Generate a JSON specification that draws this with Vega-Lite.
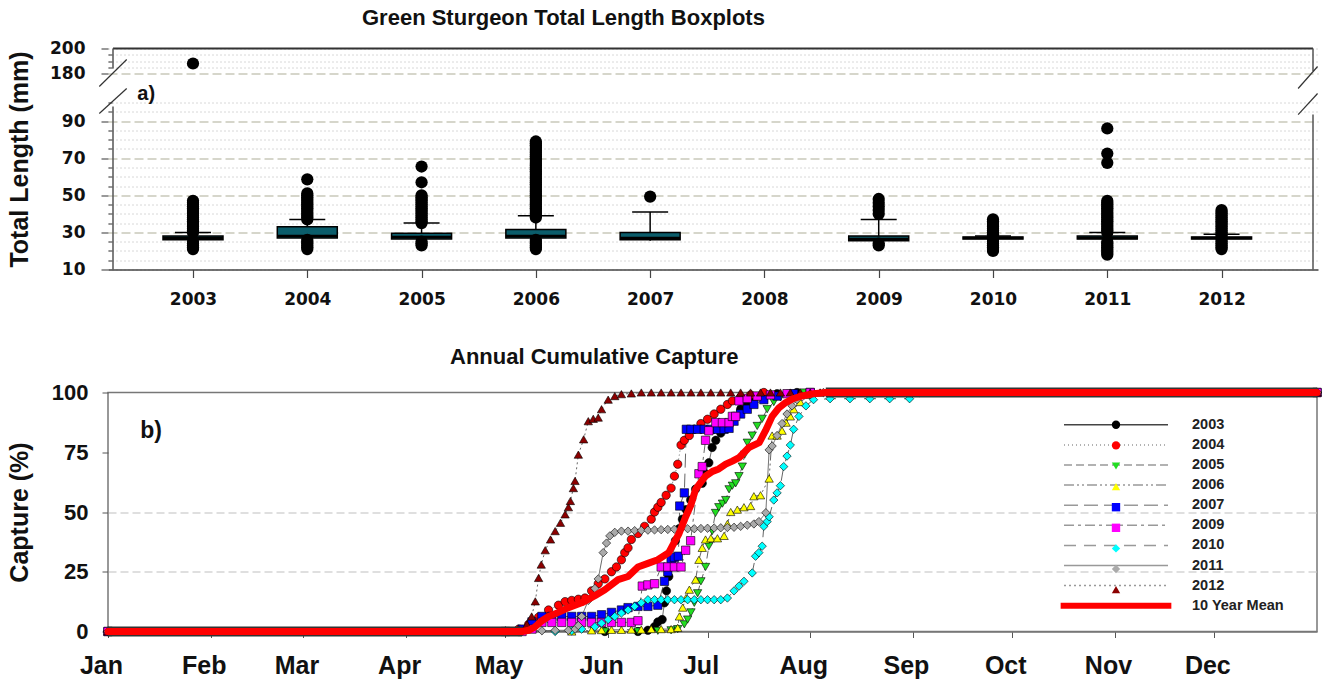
{
  "$schema": "https://vega.github.io/schema/vega-lite/v6.json",
  "background": "white",
  "padding": {"left": 6, "top": 6.5, "right": 3, "bottom": 2},
  "config": {
    "font": "Liberation Sans",
    "view": {"stroke": null},
    "axis": {"labelFont": "Liberation Sans", "titleFont": "Liberation Sans", "labelFontWeight": "bold", "titleFontWeight": "bold", "labelColor": "#111", "titleColor": "#111", "labelOverlap": false, "labelBound": false, "labelFlush": false},
    "legend": {"labelFont": "Liberation Sans"},
    "text": {"font": "Liberation Sans"},
    "title": {"font": "Liberation Sans", "fontWeight": "bold", "color": "#111"}
  },
  "datasets": {
    "boxes": [
      {"year": 2003, "lo": 25, "q1": 26, "med": 27, "q3": 28, "hi": 30},
      {"year": 2004, "lo": 26, "q1": 27, "med": 28, "q3": 33, "hi": 37},
      {"year": 2005, "lo": 25, "q1": 26.5, "med": 27.5, "q3": 29.5, "hi": 35},
      {"year": 2006, "lo": 25, "q1": 27, "med": 28, "q3": 31.5, "hi": 39},
      {"year": 2007, "lo": 25.5, "q1": 26, "med": 27, "q3": 30, "hi": 41},
      {"year": 2009, "lo": 25, "q1": 25.5, "med": 26.5, "q3": 28, "hi": 37},
      {"year": 2010, "lo": 26, "q1": 26.5, "med": 27, "q3": 27.5, "hi": 28},
      {"year": 2011, "lo": 26, "q1": 26.5, "med": 27, "q3": 28, "hi": 30},
      {"year": 2012, "lo": 26, "q1": 26.5, "med": 27, "q3": 27.5, "hi": 29}
    ],
    "outl": [
      {"year": 2003, "len": 21}, {"year": 2003, "len": 22}, {"year": 2003, "len": 23}, {"year": 2003, "len": 24}, {"year": 2003, "len": 25},
      {"year": 2003, "len": 30}, {"year": 2003, "len": 31}, {"year": 2003, "len": 32}, {"year": 2003, "len": 33}, {"year": 2003, "len": 34}, {"year": 2003, "len": 35}, {"year": 2003, "len": 36}, {"year": 2003, "len": 37}, {"year": 2003, "len": 38}, {"year": 2003, "len": 39}, {"year": 2003, "len": 40}, {"year": 2003, "len": 41}, {"year": 2003, "len": 42}, {"year": 2003, "len": 43}, {"year": 2003, "len": 44}, {"year": 2003, "len": 45}, {"year": 2003, "len": 46}, {"year": 2003, "len": 47},
      {"year": 2003, "len": 188},
      {"year": 2004, "len": 21}, {"year": 2004, "len": 22}, {"year": 2004, "len": 23}, {"year": 2004, "len": 24}, {"year": 2004, "len": 25}, {"year": 2004, "len": 26},
      {"year": 2004, "len": 37}, {"year": 2004, "len": 38}, {"year": 2004, "len": 39}, {"year": 2004, "len": 40}, {"year": 2004, "len": 41}, {"year": 2004, "len": 42}, {"year": 2004, "len": 43}, {"year": 2004, "len": 44}, {"year": 2004, "len": 45}, {"year": 2004, "len": 46}, {"year": 2004, "len": 47}, {"year": 2004, "len": 48}, {"year": 2004, "len": 49}, {"year": 2004, "len": 50}, {"year": 2004, "len": 51}, {"year": 2004, "len": 58.6},
      {"year": 2005, "len": 23}, {"year": 2005, "len": 24}, {"year": 2005, "len": 25},
      {"year": 2005, "len": 35}, {"year": 2005, "len": 36}, {"year": 2005, "len": 37}, {"year": 2005, "len": 38}, {"year": 2005, "len": 39}, {"year": 2005, "len": 40}, {"year": 2005, "len": 41}, {"year": 2005, "len": 42}, {"year": 2005, "len": 43}, {"year": 2005, "len": 44}, {"year": 2005, "len": 45}, {"year": 2005, "len": 46}, {"year": 2005, "len": 47}, {"year": 2005, "len": 48}, {"year": 2005, "len": 49}, {"year": 2005, "len": 50}, {"year": 2005, "len": 57}, {"year": 2005, "len": 65.5},
      {"year": 2006, "len": 21}, {"year": 2006, "len": 22}, {"year": 2006, "len": 23}, {"year": 2006, "len": 24}, {"year": 2006, "len": 25}, {"year": 2006, "len": 26},
      {"year": 2006, "len": 38}, {"year": 2006, "len": 39}, {"year": 2006, "len": 40}, {"year": 2006, "len": 41}, {"year": 2006, "len": 42}, {"year": 2006, "len": 43}, {"year": 2006, "len": 44}, {"year": 2006, "len": 45}, {"year": 2006, "len": 46}, {"year": 2006, "len": 47}, {"year": 2006, "len": 48}, {"year": 2006, "len": 49}, {"year": 2006, "len": 50}, {"year": 2006, "len": 51}, {"year": 2006, "len": 52}, {"year": 2006, "len": 53}, {"year": 2006, "len": 54}, {"year": 2006, "len": 55}, {"year": 2006, "len": 56}, {"year": 2006, "len": 57}, {"year": 2006, "len": 58}, {"year": 2006, "len": 59}, {"year": 2006, "len": 60}, {"year": 2006, "len": 61}, {"year": 2006, "len": 62}, {"year": 2006, "len": 63}, {"year": 2006, "len": 64}, {"year": 2006, "len": 65}, {"year": 2006, "len": 66}, {"year": 2006, "len": 67}, {"year": 2006, "len": 68}, {"year": 2006, "len": 69}, {"year": 2006, "len": 70}, {"year": 2006, "len": 71}, {"year": 2006, "len": 72}, {"year": 2006, "len": 73}, {"year": 2006, "len": 74}, {"year": 2006, "len": 75}, {"year": 2006, "len": 76}, {"year": 2006, "len": 77}, {"year": 2006, "len": 78}, {"year": 2006, "len": 79},
      {"year": 2007, "len": 49.3},
      {"year": 2009, "len": 23}, {"year": 2009, "len": 24}, {"year": 2009, "len": 40}, {"year": 2009, "len": 42}, {"year": 2009, "len": 44}, {"year": 2009, "len": 46}, {"year": 2009, "len": 48},
      {"year": 2010, "len": 20}, {"year": 2010, "len": 21}, {"year": 2010, "len": 22}, {"year": 2010, "len": 23}, {"year": 2010, "len": 24}, {"year": 2010, "len": 25}, {"year": 2010, "len": 26}, {"year": 2010, "len": 28}, {"year": 2010, "len": 29}, {"year": 2010, "len": 30}, {"year": 2010, "len": 31}, {"year": 2010, "len": 32}, {"year": 2010, "len": 33}, {"year": 2010, "len": 34}, {"year": 2010, "len": 35}, {"year": 2010, "len": 36}, {"year": 2010, "len": 37},
      {"year": 2011, "len": 18}, {"year": 2011, "len": 19}, {"year": 2011, "len": 20}, {"year": 2011, "len": 21}, {"year": 2011, "len": 22}, {"year": 2011, "len": 23}, {"year": 2011, "len": 24}, {"year": 2011, "len": 25},
      {"year": 2011, "len": 30}, {"year": 2011, "len": 31}, {"year": 2011, "len": 32}, {"year": 2011, "len": 33}, {"year": 2011, "len": 34}, {"year": 2011, "len": 35}, {"year": 2011, "len": 36}, {"year": 2011, "len": 37}, {"year": 2011, "len": 38}, {"year": 2011, "len": 39}, {"year": 2011, "len": 40}, {"year": 2011, "len": 41}, {"year": 2011, "len": 42}, {"year": 2011, "len": 43}, {"year": 2011, "len": 44}, {"year": 2011, "len": 45}, {"year": 2011, "len": 46}, {"year": 2011, "len": 47}, {"year": 2011, "len": 67.5}, {"year": 2011, "len": 72.5}, {"year": 2011, "len": 86},
      {"year": 2012, "len": 21}, {"year": 2012, "len": 22}, {"year": 2012, "len": 23}, {"year": 2012, "len": 24}, {"year": 2012, "len": 25}, {"year": 2012, "len": 26}, {"year": 2012, "len": 28}, {"year": 2012, "len": 29}, {"year": 2012, "len": 30}, {"year": 2012, "len": 31}, {"year": 2012, "len": 32}, {"year": 2012, "len": 33}, {"year": 2012, "len": 34}, {"year": 2012, "len": 35}, {"year": 2012, "len": 36}, {"year": 2012, "len": 37}, {"year": 2012, "len": 38}, {"year": 2012, "len": 39}, {"year": 2012, "len": 40}, {"year": 2012, "len": 41}, {"year": 2012, "len": 42}
    ],
    "cap": [
      {"s": "2003", "d": 0, "v": 0}, {"s": "2003", "d": 120, "v": 0}, {"s": "2003", "d": 150, "v": 0}, {"s": "2003", "d": 160, "v": 0}, {"s": "2003", "d": 163, "v": 0.5}, {"s": "2003", "d": 165, "v": 2}, {"s": "2003", "d": 166, "v": 4}, {"s": "2003", "d": 167.3, "v": 5}, {"s": "2003", "d": 168, "v": 12}, {"s": "2003", "d": 168.6, "v": 17}, {"s": "2003", "d": 169.3, "v": 23}, {"s": "2003", "d": 170.3, "v": 30}, {"s": "2003", "d": 171.3, "v": 38}, {"s": "2003", "d": 172.4, "v": 43}, {"s": "2003", "d": 173.4, "v": 47}, {"s": "2003", "d": 174.5, "v": 51}, {"s": "2003", "d": 175.9, "v": 55}, {"s": "2003", "d": 177.4, "v": 59.6}, {"s": "2003", "d": 179.4, "v": 62}, {"s": "2003", "d": 180.4, "v": 66}, {"s": "2003", "d": 181.4, "v": 70.6}, {"s": "2003", "d": 182.4, "v": 77}, {"s": "2003", "d": 183.5, "v": 80}, {"s": "2003", "d": 185, "v": 83}, {"s": "2003", "d": 187, "v": 87}, {"s": "2003", "d": 189, "v": 90}, {"s": "2003", "d": 191, "v": 93}, {"s": "2003", "d": 193, "v": 95}, {"s": "2003", "d": 195, "v": 97}, {"s": "2003", "d": 198, "v": 98.5}, {"s": "2003", "d": 202, "v": 99.5}, {"s": "2003", "d": 208, "v": 100}, {"s": "2003", "d": 365, "v": 100},
      {"s": "2004", "d": 0, "v": 0}, {"s": "2004", "d": 120, "v": 0}, {"s": "2004", "d": 124, "v": 1}, {"s": "2004", "d": 127, "v": 3}, {"s": "2004", "d": 130, "v": 6}, {"s": "2004", "d": 133, "v": 9}, {"s": "2004", "d": 136, "v": 11}, {"s": "2004", "d": 138, "v": 12.5}, {"s": "2004", "d": 140, "v": 13}, {"s": "2004", "d": 142, "v": 13.5}, {"s": "2004", "d": 144, "v": 14}, {"s": "2004", "d": 146, "v": 17}, {"s": "2004", "d": 148, "v": 20}, {"s": "2004", "d": 150, "v": 22}, {"s": "2004", "d": 152, "v": 25}, {"s": "2004", "d": 153.5, "v": 27}, {"s": "2004", "d": 155, "v": 30}, {"s": "2004", "d": 156, "v": 33}, {"s": "2004", "d": 157, "v": 35}, {"s": "2004", "d": 158, "v": 38.5}, {"s": "2004", "d": 160, "v": 41}, {"s": "2004", "d": 162, "v": 44}, {"s": "2004", "d": 164, "v": 47}, {"s": "2004", "d": 165, "v": 50}, {"s": "2004", "d": 166, "v": 52}, {"s": "2004", "d": 167, "v": 54}, {"s": "2004", "d": 168.5, "v": 57}, {"s": "2004", "d": 170, "v": 60}, {"s": "2004", "d": 171, "v": 65}, {"s": "2004", "d": 172, "v": 70}, {"s": "2004", "d": 173, "v": 78}, {"s": "2004", "d": 174, "v": 80}, {"s": "2004", "d": 175.5, "v": 82}, {"s": "2004", "d": 177, "v": 84.6}, {"s": "2004", "d": 179, "v": 87}, {"s": "2004", "d": 181, "v": 88.8}, {"s": "2004", "d": 183, "v": 91}, {"s": "2004", "d": 185, "v": 93}, {"s": "2004", "d": 187, "v": 95}, {"s": "2004", "d": 188.5, "v": 96.5}, {"s": "2004", "d": 191, "v": 98}, {"s": "2004", "d": 194, "v": 99}, {"s": "2004", "d": 198, "v": 100}, {"s": "2004", "d": 365, "v": 100},
      {"s": "2005", "d": 0, "v": 0}, {"s": "2005", "d": 150, "v": 0}, {"s": "2005", "d": 160, "v": 0}, {"s": "2005", "d": 166, "v": 0.3}, {"s": "2005", "d": 170, "v": 0.5}, {"s": "2005", "d": 172, "v": 1}, {"s": "2005", "d": 174, "v": 3}, {"s": "2005", "d": 175, "v": 5}, {"s": "2005", "d": 176, "v": 8}, {"s": "2005", "d": 177, "v": 12}, {"s": "2005", "d": 178, "v": 16}, {"s": "2005", "d": 179, "v": 21}, {"s": "2005", "d": 180.4, "v": 27}, {"s": "2005", "d": 181.4, "v": 35.7}, {"s": "2005", "d": 182.4, "v": 42}, {"s": "2005", "d": 183.4, "v": 49.6}, {"s": "2005", "d": 184.4, "v": 52}, {"s": "2005", "d": 185.5, "v": 53.5}, {"s": "2005", "d": 186.5, "v": 55}, {"s": "2005", "d": 187.5, "v": 59.5}, {"s": "2005", "d": 188.5, "v": 61}, {"s": "2005", "d": 189.5, "v": 62}, {"s": "2005", "d": 190.5, "v": 65}, {"s": "2005", "d": 191.5, "v": 69}, {"s": "2005", "d": 192.2, "v": 74}, {"s": "2005", "d": 193, "v": 79}, {"s": "2005", "d": 194.5, "v": 82}, {"s": "2005", "d": 196, "v": 86}, {"s": "2005", "d": 197.5, "v": 89}, {"s": "2005", "d": 199, "v": 93}, {"s": "2005", "d": 201, "v": 96}, {"s": "2005", "d": 203, "v": 98}, {"s": "2005", "d": 206, "v": 99.5}, {"s": "2005", "d": 210, "v": 100}, {"s": "2005", "d": 365, "v": 100},
      {"s": "2006", "d": 0, "v": 0}, {"s": "2006", "d": 140, "v": 0}, {"s": "2006", "d": 146, "v": 0.5}, {"s": "2006", "d": 149, "v": 0.6}, {"s": "2006", "d": 152, "v": 0.7}, {"s": "2006", "d": 155, "v": 0.7}, {"s": "2006", "d": 158, "v": 0.8}, {"s": "2006", "d": 161, "v": 0.8}, {"s": "2006", "d": 164, "v": 1}, {"s": "2006", "d": 167, "v": 1}, {"s": "2006", "d": 170, "v": 1}, {"s": "2006", "d": 172, "v": 1.5}, {"s": "2006", "d": 172.5, "v": 6.3}, {"s": "2006", "d": 173.5, "v": 10}, {"s": "2006", "d": 174.5, "v": 14}, {"s": "2006", "d": 175.5, "v": 17.5}, {"s": "2006", "d": 177.4, "v": 21.7}, {"s": "2006", "d": 178.4, "v": 30}, {"s": "2006", "d": 179.4, "v": 35}, {"s": "2006", "d": 180.4, "v": 38.5}, {"s": "2006", "d": 182, "v": 39}, {"s": "2006", "d": 184, "v": 39}, {"s": "2006", "d": 186, "v": 40}, {"s": "2006", "d": 187, "v": 45}, {"s": "2006", "d": 188, "v": 50}, {"s": "2006", "d": 190, "v": 51}, {"s": "2006", "d": 192, "v": 52}, {"s": "2006", "d": 194, "v": 52.5}, {"s": "2006", "d": 195, "v": 56.6}, {"s": "2006", "d": 197, "v": 57}, {"s": "2006", "d": 199.6, "v": 64}, {"s": "2006", "d": 200.5, "v": 82}, {"s": "2006", "d": 202, "v": 82}, {"s": "2006", "d": 203.5, "v": 84}, {"s": "2006", "d": 204.7, "v": 87.4}, {"s": "2006", "d": 206, "v": 90}, {"s": "2006", "d": 207, "v": 93}, {"s": "2006", "d": 209, "v": 96}, {"s": "2006", "d": 212, "v": 99}, {"s": "2006", "d": 215, "v": 100}, {"s": "2006", "d": 365, "v": 100},
      {"s": "2007", "d": 0, "v": 0}, {"s": "2007", "d": 120, "v": 0}, {"s": "2007", "d": 125, "v": 1}, {"s": "2007", "d": 128, "v": 4}, {"s": "2007", "d": 131, "v": 6.3}, {"s": "2007", "d": 134, "v": 6.3}, {"s": "2007", "d": 137, "v": 6.3}, {"s": "2007", "d": 140, "v": 6.3}, {"s": "2007", "d": 143, "v": 6.3}, {"s": "2007", "d": 146, "v": 6.3}, {"s": "2007", "d": 149, "v": 7}, {"s": "2007", "d": 152, "v": 8}, {"s": "2007", "d": 155, "v": 9}, {"s": "2007", "d": 157, "v": 10}, {"s": "2007", "d": 160, "v": 10.5}, {"s": "2007", "d": 163, "v": 10.5}, {"s": "2007", "d": 166, "v": 11}, {"s": "2007", "d": 168, "v": 21}, {"s": "2007", "d": 169, "v": 25}, {"s": "2007", "d": 170, "v": 30}, {"s": "2007", "d": 171, "v": 31}, {"s": "2007", "d": 172.2, "v": 31.5}, {"s": "2007", "d": 172.6, "v": 52.5}, {"s": "2007", "d": 174, "v": 58}, {"s": "2007", "d": 174.6, "v": 84.6}, {"s": "2007", "d": 176, "v": 84.6}, {"s": "2007", "d": 178, "v": 84.6}, {"s": "2007", "d": 180, "v": 84.6}, {"s": "2007", "d": 182, "v": 84.6}, {"s": "2007", "d": 184, "v": 84.6}, {"s": "2007", "d": 186, "v": 84.6}, {"s": "2007", "d": 187.5, "v": 85}, {"s": "2007", "d": 189, "v": 88}, {"s": "2007", "d": 191, "v": 91}, {"s": "2007", "d": 193, "v": 93}, {"s": "2007", "d": 195, "v": 95}, {"s": "2007", "d": 198, "v": 97}, {"s": "2007", "d": 202, "v": 98.5}, {"s": "2007", "d": 207, "v": 99.5}, {"s": "2007", "d": 212, "v": 100}, {"s": "2007", "d": 365, "v": 100},
      {"s": "2009", "d": 0, "v": 0}, {"s": "2009", "d": 125, "v": 0}, {"s": "2009", "d": 128, "v": 1}, {"s": "2009", "d": 131, "v": 3.8}, {"s": "2009", "d": 134, "v": 3.8}, {"s": "2009", "d": 137, "v": 3.8}, {"s": "2009", "d": 140, "v": 3.8}, {"s": "2009", "d": 143, "v": 3.8}, {"s": "2009", "d": 146, "v": 3.8}, {"s": "2009", "d": 149, "v": 3.8}, {"s": "2009", "d": 152, "v": 3.8}, {"s": "2009", "d": 155, "v": 3.8}, {"s": "2009", "d": 158, "v": 3.8}, {"s": "2009", "d": 160, "v": 4.5}, {"s": "2009", "d": 161.3, "v": 19}, {"s": "2009", "d": 163, "v": 19.5}, {"s": "2009", "d": 165, "v": 20}, {"s": "2009", "d": 167, "v": 27}, {"s": "2009", "d": 169, "v": 27}, {"s": "2009", "d": 171, "v": 27}, {"s": "2009", "d": 173, "v": 27}, {"s": "2009", "d": 174.4, "v": 34}, {"s": "2009", "d": 175.9, "v": 38}, {"s": "2009", "d": 178.4, "v": 66}, {"s": "2009", "d": 179.4, "v": 69}, {"s": "2009", "d": 180.4, "v": 80}, {"s": "2009", "d": 181.4, "v": 84}, {"s": "2009", "d": 183.5, "v": 87.4}, {"s": "2009", "d": 185.5, "v": 87.4}, {"s": "2009", "d": 187.5, "v": 87.4}, {"s": "2009", "d": 188.5, "v": 90}, {"s": "2009", "d": 189.5, "v": 90}, {"s": "2009", "d": 190.5, "v": 96.5}, {"s": "2009", "d": 193, "v": 97.5}, {"s": "2009", "d": 196, "v": 98.5}, {"s": "2009", "d": 200, "v": 99}, {"s": "2009", "d": 205, "v": 99.5}, {"s": "2009", "d": 212, "v": 100}, {"s": "2009", "d": 365, "v": 100},
      {"s": "2010", "d": 0, "v": 0}, {"s": "2010", "d": 135, "v": 0}, {"s": "2010", "d": 140, "v": 0.3}, {"s": "2010", "d": 143, "v": 1}, {"s": "2010", "d": 147, "v": 2}, {"s": "2010", "d": 149, "v": 3.5}, {"s": "2010", "d": 151, "v": 5}, {"s": "2010", "d": 153, "v": 6.3}, {"s": "2010", "d": 155, "v": 7.7}, {"s": "2010", "d": 157, "v": 9}, {"s": "2010", "d": 159, "v": 10.5}, {"s": "2010", "d": 161, "v": 12}, {"s": "2010", "d": 163, "v": 13.3}, {"s": "2010", "d": 165, "v": 13.3}, {"s": "2010", "d": 167, "v": 13.3}, {"s": "2010", "d": 169, "v": 13.3}, {"s": "2010", "d": 171, "v": 13.3}, {"s": "2010", "d": 173, "v": 13.3}, {"s": "2010", "d": 175, "v": 13.3}, {"s": "2010", "d": 177, "v": 13.3}, {"s": "2010", "d": 179, "v": 13.3}, {"s": "2010", "d": 181, "v": 13.3}, {"s": "2010", "d": 183, "v": 13.3}, {"s": "2010", "d": 185, "v": 13.3}, {"s": "2010", "d": 187, "v": 14}, {"s": "2010", "d": 189, "v": 17}, {"s": "2010", "d": 190.5, "v": 19}, {"s": "2010", "d": 192, "v": 21}, {"s": "2010", "d": 194.5, "v": 24.5}, {"s": "2010", "d": 195.5, "v": 31.5}, {"s": "2010", "d": 196.5, "v": 33}, {"s": "2010", "d": 197.5, "v": 35.7}, {"s": "2010", "d": 198, "v": 44}, {"s": "2010", "d": 199, "v": 46}, {"s": "2010", "d": 199.6, "v": 48}, {"s": "2010", "d": 201, "v": 55}, {"s": "2010", "d": 202, "v": 58}, {"s": "2010", "d": 203, "v": 61}, {"s": "2010", "d": 204, "v": 69}, {"s": "2010", "d": 205, "v": 73.4}, {"s": "2010", "d": 206, "v": 78}, {"s": "2010", "d": 207, "v": 84.6}, {"s": "2010", "d": 208.6, "v": 90}, {"s": "2010", "d": 210.7, "v": 94.4}, {"s": "2010", "d": 213, "v": 97}, {"s": "2010", "d": 218, "v": 97.4}, {"s": "2010", "d": 224, "v": 97.4}, {"s": "2010", "d": 230, "v": 97.4}, {"s": "2010", "d": 236, "v": 97.4}, {"s": "2010", "d": 242, "v": 97.4}, {"s": "2010", "d": 245, "v": 100}, {"s": "2010", "d": 365, "v": 100},
      {"s": "2011", "d": 0, "v": 0}, {"s": "2011", "d": 125, "v": 0}, {"s": "2011", "d": 131, "v": 0.3}, {"s": "2011", "d": 135, "v": 0.5}, {"s": "2011", "d": 139, "v": 0.5}, {"s": "2011", "d": 141, "v": 1}, {"s": "2011", "d": 142, "v": 2.5}, {"s": "2011", "d": 143, "v": 6.3}, {"s": "2011", "d": 145, "v": 13}, {"s": "2011", "d": 147, "v": 18}, {"s": "2011", "d": 148, "v": 22}, {"s": "2011", "d": 149.5, "v": 33}, {"s": "2011", "d": 150.5, "v": 37}, {"s": "2011", "d": 151.5, "v": 40}, {"s": "2011", "d": 153, "v": 41.5}, {"s": "2011", "d": 155, "v": 42}, {"s": "2011", "d": 157, "v": 42}, {"s": "2011", "d": 159, "v": 42.2}, {"s": "2011", "d": 161, "v": 42.3}, {"s": "2011", "d": 163, "v": 42.4}, {"s": "2011", "d": 165, "v": 42.5}, {"s": "2011", "d": 167, "v": 42.6}, {"s": "2011", "d": 169, "v": 42.7}, {"s": "2011", "d": 171, "v": 42.8}, {"s": "2011", "d": 173, "v": 43}, {"s": "2011", "d": 175, "v": 43}, {"s": "2011", "d": 177, "v": 43}, {"s": "2011", "d": 179, "v": 43.1}, {"s": "2011", "d": 181, "v": 43.2}, {"s": "2011", "d": 183, "v": 43.3}, {"s": "2011", "d": 185, "v": 43.4}, {"s": "2011", "d": 187, "v": 43.5}, {"s": "2011", "d": 189, "v": 43.6}, {"s": "2011", "d": 191, "v": 44}, {"s": "2011", "d": 193, "v": 44.5}, {"s": "2011", "d": 195, "v": 45}, {"s": "2011", "d": 196.5, "v": 46}, {"s": "2011", "d": 198.6, "v": 49.7}, {"s": "2011", "d": 199.6, "v": 76}, {"s": "2011", "d": 200.5, "v": 77.6}, {"s": "2011", "d": 202, "v": 82}, {"s": "2011", "d": 203.5, "v": 87}, {"s": "2011", "d": 205, "v": 91}, {"s": "2011", "d": 206.5, "v": 94.4}, {"s": "2011", "d": 208, "v": 97}, {"s": "2011", "d": 212, "v": 99}, {"s": "2011", "d": 216, "v": 100}, {"s": "2011", "d": 365, "v": 100},
      {"s": "2012", "d": 0, "v": 0}, {"s": "2012", "d": 115, "v": 0}, {"s": "2012", "d": 120, "v": 0.5}, {"s": "2012", "d": 124, "v": 1}, {"s": "2012", "d": 126.5, "v": 3}, {"s": "2012", "d": 127.9, "v": 6.3}, {"s": "2012", "d": 129, "v": 12.6}, {"s": "2012", "d": 130, "v": 22.4}, {"s": "2012", "d": 130.8, "v": 28}, {"s": "2012", "d": 132, "v": 34}, {"s": "2012", "d": 133.6, "v": 38.5}, {"s": "2012", "d": 135, "v": 42}, {"s": "2012", "d": 136.6, "v": 45.5}, {"s": "2012", "d": 138, "v": 49}, {"s": "2012", "d": 139, "v": 52}, {"s": "2012", "d": 139.6, "v": 54.6}, {"s": "2012", "d": 140.5, "v": 60}, {"s": "2012", "d": 141, "v": 63}, {"s": "2012", "d": 142, "v": 74}, {"s": "2012", "d": 143.6, "v": 80.4}, {"s": "2012", "d": 145, "v": 88}, {"s": "2012", "d": 146.5, "v": 89}, {"s": "2012", "d": 148, "v": 89.5}, {"s": "2012", "d": 149, "v": 93}, {"s": "2012", "d": 151, "v": 97}, {"s": "2012", "d": 153, "v": 98.5}, {"s": "2012", "d": 155, "v": 99.3}, {"s": "2012", "d": 158, "v": 99.6}, {"s": "2012", "d": 161, "v": 100}, {"s": "2012", "d": 164, "v": 100}, {"s": "2012", "d": 167, "v": 100}, {"s": "2012", "d": 170, "v": 100}, {"s": "2012", "d": 173, "v": 100}, {"s": "2012", "d": 176, "v": 100}, {"s": "2012", "d": 179, "v": 100}, {"s": "2012", "d": 182, "v": 100}, {"s": "2012", "d": 185, "v": 100}, {"s": "2012", "d": 188, "v": 100}, {"s": "2012", "d": 191, "v": 100}, {"s": "2012", "d": 194, "v": 100}, {"s": "2012", "d": 197, "v": 100}, {"s": "2012", "d": 200, "v": 100}, {"s": "2012", "d": 203, "v": 100}, {"s": "2012", "d": 206, "v": 100}, {"s": "2012", "d": 209, "v": 100}, {"s": "2012", "d": 212, "v": 100}, {"s": "2012", "d": 215, "v": 100}, {"s": "2012", "d": 218, "v": 100}, {"s": "2012", "d": 365, "v": 100},
      {"s": "10 Year Mean", "d": 0, "v": 0}, {"s": "10 Year Mean", "d": 100, "v": 0}, {"s": "10 Year Mean", "d": 125, "v": 0}, {"s": "10 Year Mean", "d": 127, "v": 0.5}, {"s": "10 Year Mean", "d": 129, "v": 2}, {"s": "10 Year Mean", "d": 131, "v": 4.5}, {"s": "10 Year Mean", "d": 133, "v": 6.3}, {"s": "10 Year Mean", "d": 136, "v": 8}, {"s": "10 Year Mean", "d": 139, "v": 10}, {"s": "10 Year Mean", "d": 143, "v": 12}, {"s": "10 Year Mean", "d": 147, "v": 15}, {"s": "10 Year Mean", "d": 150, "v": 17.5}, {"s": "10 Year Mean", "d": 154, "v": 21.7}, {"s": "10 Year Mean", "d": 157, "v": 23}, {"s": "10 Year Mean", "d": 160, "v": 27}, {"s": "10 Year Mean", "d": 163, "v": 28.5}, {"s": "10 Year Mean", "d": 166, "v": 30}, {"s": "10 Year Mean", "d": 169.3, "v": 33}, {"s": "10 Year Mean", "d": 172.4, "v": 41}, {"s": "10 Year Mean", "d": 174.4, "v": 48}, {"s": "10 Year Mean", "d": 176, "v": 53}, {"s": "10 Year Mean", "d": 177.4, "v": 59.5}, {"s": "10 Year Mean", "d": 179, "v": 62.5}, {"s": "10 Year Mean", "d": 180.4, "v": 65}, {"s": "10 Year Mean", "d": 182.5, "v": 67}, {"s": "10 Year Mean", "d": 184.4, "v": 68}, {"s": "10 Year Mean", "d": 186.5, "v": 70}, {"s": "10 Year Mean", "d": 188.5, "v": 71.3}, {"s": "10 Year Mean", "d": 190.5, "v": 72.7}, {"s": "10 Year Mean", "d": 193.5, "v": 77}, {"s": "10 Year Mean", "d": 196.6, "v": 79}, {"s": "10 Year Mean", "d": 198.5, "v": 84}, {"s": "10 Year Mean", "d": 200.5, "v": 90}, {"s": "10 Year Mean", "d": 202.5, "v": 93.5}, {"s": "10 Year Mean", "d": 204.6, "v": 95.8}, {"s": "10 Year Mean", "d": 207, "v": 97.5}, {"s": "10 Year Mean", "d": 209.6, "v": 98.6}, {"s": "10 Year Mean", "d": 213, "v": 99.5}, {"s": "10 Year Mean", "d": 216.7, "v": 100}, {"s": "10 Year Mean", "d": 365, "v": 100}
    ]
  },
  "vconcat": [
    {
      "width": 1210,
      "height": 221,
      "title": {"text": "Green Sturgeon Total Length Boxplots", "anchor": "start", "frame": "group", "dx": 254, "offset": 10, "fontSize": 22},
      "layer": [
        {
          "data": {"name": "boxes"},
          "mark": {"type": "rule", "stroke": "#000000", "strokeWidth": 1.5},
          "encoding": {
            "x": {"field": "year", "type": "quantitative", "scale": {"domain": [2002.3, 2012.8], "nice": false, "zero": false},
              "axis": {"title": null, "values": [2003, 2004, 2005, 2006, 2007, 2008, 2009, 2010, 2011, 2012], "tickCount": 50, "format": "d", "labelFont": "DejaVu Sans", "labelFontSize": 17, "tickSize": 8, "labelPadding": 14, "domainColor": "#444444", "domainWidth": 1.5, "tickColor": "#444444", "tickWidth": 1.2, "grid": false}},
            "y": {"field": "lo", "type": "quantitative", "scale": {"domain": [10, 100, 180, 200], "range": [221, 54, 25, 0], "nice": false, "zero": false},
              "axis": {"title": "Total Length (mm)", "titleFontSize": 25, "titleX": -76,
                "values": [10, 15, 20, 25, 30, 35, 40, 45, 50, 55, 60, 65, 70, 75, 80, 85, 90, 95, 100, 180, 185, 190, 195, 200],
                "tickCount": 50,
                "labelExpr": "indexof([10,30,50,70,90,180,200], datum.value) >= 0 ? datum.label : ''",
                "labelFont": "DejaVu Sans", "labelFontSize": 17, "labelPadding": 16, "domain": false,
                "tickSize": {"condition": {"test": "indexof([10,30,50,70,90,180,200], datum.value) >= 0", "value": 7}, "value": -4},
                "tickColor": "#555555", "tickWidth": 1.2,
                "grid": true,
                "gridDash": {"condition": {"test": "indexof([30,50,70,90,180], datum.value) >= 0", "value": [9, 4]}, "value": [1, 3]},
                "gridColor": {"condition": {"test": "indexof([30,50,70,90,180], datum.value) >= 0", "value": "#c9c9bb"}, "value": "#b0b0b0"},
                "gridWidth": {"condition": {"test": "indexof([30,50,70,90,180], datum.value) >= 0", "value": 1.6}, "value": 1}}},
            "y2": {"field": "hi"}
          }
        },
        {
          "data": {"name": "boxes"},
          "mark": {"type": "bar", "width": 60, "fill": "#0b5d6b", "stroke": "#000000", "strokeWidth": 1.5},
          "encoding": {"x": {"field": "year", "type": "quantitative"}, "y": {"field": "q1", "type": "quantitative"}, "y2": {"field": "q3"}}
        },
        {
          "data": {"name": "boxes"},
          "mark": {"type": "tick", "orient": "horizontal", "size": 60, "thickness": 2.5, "color": "#000000", "opacity": 1},
          "encoding": {"x": {"field": "year", "type": "quantitative"}, "y": {"field": "med", "type": "quantitative"}}
        },
        {
          "data": {"name": "boxes"},
          "mark": {"type": "tick", "orient": "horizontal", "size": 36, "thickness": 1.5, "color": "#000000", "opacity": 1},
          "encoding": {"x": {"field": "year", "type": "quantitative"}, "y": {"field": "hi", "type": "quantitative"}}
        },
        {
          "data": {"name": "outl"},
          "mark": {"type": "circle", "size": 150, "color": "#000000", "opacity": 1},
          "encoding": {"x": {"field": "year", "type": "quantitative"}, "y": {"field": "len", "type": "quantitative"}}
        },
        {"data": {"values": [{}]}, "mark": {"type": "rule", "stroke": "#333333", "strokeWidth": 2}, "encoding": {"x": {"datum": 2002.3}, "x2": {"datum": 2012.8}, "y": {"datum": 200}}},
        {"data": {"values": [{}]}, "mark": {"type": "rule", "stroke": "#555555", "strokeWidth": 1.5}, "encoding": {"x": {"datum": 2002.3}, "y": {"datum": 184}, "y2": {"datum": 200}}},
        {"data": {"values": [{}]}, "mark": {"type": "rule", "stroke": "#555555", "strokeWidth": 1.5}, "encoding": {"x": {"datum": 2002.3}, "y": {"datum": 10}, "y2": {"datum": 97.8}}},
        {"data": {"values": [{}]}, "mark": {"type": "rule", "stroke": "#555555", "strokeWidth": 1.5}, "encoding": {"x": {"datum": 2012.8}, "y": {"datum": 182}, "y2": {"datum": 200}}},
        {"data": {"values": [{}]}, "mark": {"type": "rule", "stroke": "#555555", "strokeWidth": 1.5}, "encoding": {"x": {"datum": 2012.8}, "y": {"datum": 10}, "y2": {"datum": 93.5}}},
        {"data": {"values": [{}]}, "mark": {"type": "rule", "stroke": "#333333", "strokeWidth": 1.2}, "encoding": {"x": {"datum": 2002.18}, "x2": {"datum": 2002.42}, "y": {"datum": 144.1}, "y2": {"datum": 191.2}}},
        {"data": {"values": [{}]}, "mark": {"type": "rule", "stroke": "#333333", "strokeWidth": 1.2}, "encoding": {"x": {"datum": 2002.18}, "x2": {"datum": 2002.42}, "y": {"datum": 94.1}, "y2": {"datum": 138.6}}},
        {"data": {"values": [{}]}, "mark": {"type": "rule", "stroke": "#333333", "strokeWidth": 1.2}, "encoding": {"x": {"datum": 2012.67}, "x2": {"datum": 2012.84}, "y": {"datum": 138.6}, "y2": {"datum": 185.6}}},
        {"data": {"values": [{}]}, "mark": {"type": "rule", "stroke": "#333333", "strokeWidth": 1.2}, "encoding": {"x": {"datum": 2012.67}, "x2": {"datum": 2012.84}, "y": {"datum": 93.5}, "y2": {"datum": 124.8}}},
        {"data": {"values": [{}]}, "mark": {"type": "text", "text": "a)", "fontSize": 20, "fontWeight": "bold", "color": "#111111"}, "encoding": {"x": {"datum": 2002.59}, "y": {"datum": 124.8}}}
      ]
    },
    {
      "width": 1209,
      "height": 239,
      "view": {"stroke": "#777777", "strokeWidth": 1.5},
      "title": {"text": "Annual Cumulative Capture", "anchor": "start", "frame": "group", "dx": 342, "offset": 4, "fontSize": 22},
      "data": {"name": "cap"},
      "layer": [
        {
          "transform": [{"filter": "datum.s != '10 Year Mean'"}],
          "mark": {"type": "line", "stroke": "#666666", "strokeWidth": 1},
          "encoding": {
            "x": {"field": "d", "type": "quantitative", "scale": {"domain": [0, 365], "nice": false, "zero": false},
              "axis": {"title": null, "values": [0, 31, 59, 90, 120, 151, 181, 212, 243, 273, 304, 334], "tickCount": 50, "labelExpr": "timeFormat(datetime(2001, 0, 1 + datum.value), '%b')", "labelFontSize": 25, "labelOffset": -7, "tickSize": 6, "labelPadding": 16, "domainColor": "#777777", "domainWidth": 1.5, "tickColor": "#555555", "grid": false}},
            "y": {"field": "v", "type": "quantitative", "scale": {"domain": [0, 100], "nice": false},
              "axis": {"title": "Capture (%)", "titleFontSize": 25, "titleX": -76, "values": [0, 25, 50, 75, 100], "tickCount": 50, "labelFontSize": 22, "tickSize": 6, "labelPadding": 14, "domain": false, "tickColor": "#555555",
                "grid": true, "gridDash": [8, 4], "gridColor": "#d5d5d5", "gridWidth": 1.5,
                "gridOpacity": {"condition": {"test": "datum.value == 25 || datum.value == 50", "value": 1}, "value": 0}}},
            "strokeDash": {"field": "s", "type": "nominal",
              "scale": {"domain": ["2003", "2004", "2005", "2006", "2007", "2009", "2010", "2011", "2012", "10 Year Mean"],
                "range": [[1, 0], [1, 3], [8, 4], [10, 3, 2, 3, 2, 3], [14, 6], [10, 4, 3, 4], [12, 8], [1, 0], [2, 3], [1, 0]]},
              "legend": {"orient": "none", "legendX": 955.5, "legendY": 368.8, "title": null, "padding": 0,
                "symbolType": "M-8,0H8", "symbolSize": 169, "symbolStrokeWidth": 1.5, "symbolStrokeColor": "#888888", "symbolFillColor": "transparent", "symbolOffset": 45,
                "labelFontSize": 14.5, "labelFontWeight": "bold", "labelColor": "#222222", "labelOffset": 68.5,
                "rowPadding": 5.1,
                "encode": {"symbols": {"update": {
                  "shape": {"signal": "datum.value == '10 Year Mean' ? 'M-8.4,-0.35H8.4V0.35H-8.4Z' : 'M-8,0H8'"},
                  "fill": {"signal": "datum.value == '10 Year Mean' ? '#ff0000' : 'transparent'"},
                  "stroke": {"signal": "datum.value == '10 Year Mean' ? '#ff0000' : (datum.value == '2003' ? '#444444' : '#999999')"}}}}}}
          }
        },
        {
          "transform": [{"filter": "datum.s != '10 Year Mean'"}],
          "mark": {"type": "point", "filled": true, "stroke": "#000000", "strokeWidth": 0.6, "size": 70, "opacity": 1},
          "encoding": {
            "x": {"field": "d", "type": "quantitative"},
            "y": {"field": "v", "type": "quantitative"},
            "fill": {"field": "s", "type": "nominal",
              "scale": {"domain": ["2003", "2004", "2005", "2006", "2007", "2009", "2010", "2011", "2012"],
                "range": ["#000000", "#ff0000", "#22dd22", "#ffff00", "#0000ff", "#ff00ff", "#00ffff", "#aaaaaa", "#8b0000"]},
              "legend": {"orient": "none", "legendX": 1000.75, "legendY": 369.05, "title": null, "padding": 0, "symbolSize": 70, "symbolStrokeWidth": 0.6, "symbolStrokeColor": "#000000",
                "labelFontSize": 14.5, "labelOpacity": 0, "rowPadding": 5.6,
                "encode": {"symbols": {"update": {"stroke": {"value": "#000000"}, "strokeWidth": {"value": 0.6}, "opacity": {"value": 1}}}}}},
            "shape": {"field": "s", "type": "nominal",
              "scale": {"domain": ["2003", "2004", "2005", "2006", "2007", "2009", "2010", "2011", "2012"],
                "range": ["circle", "circle", "triangle-down", "triangle-up", "square", "square", "diamond", "diamond", "triangle-up"]},
              "legend": {"orient": "none", "legendX": 1000.75, "legendY": 369.05, "title": null, "padding": 0, "symbolSize": 70, "symbolStrokeWidth": 0.6, "symbolStrokeColor": "#000000",
                "labelFontSize": 14.5, "labelOpacity": 0, "rowPadding": 5.6,
                "encode": {"symbols": {"update": {"stroke": {"value": "#000000"}, "strokeWidth": {"value": 0.6}, "opacity": {"value": 1}}}}}}
          }
        },
        {
          "transform": [{"filter": "datum.s == '10 Year Mean' && datum.v == 0"}],
          "mark": {"type": "line", "stroke": "#333333", "strokeWidth": 10},
          "encoding": {"x": {"field": "d", "type": "quantitative"}, "y": {"field": "v", "type": "quantitative"}}
        },
        {
          "transform": [{"filter": "datum.s == '10 Year Mean' && datum.v == 100"}],
          "mark": {"type": "line", "stroke": "#333333", "strokeWidth": 10},
          "encoding": {"x": {"field": "d", "type": "quantitative"}, "y": {"field": "v", "type": "quantitative"}}
        },
        {
          "transform": [{"filter": "datum.s == '10 Year Mean'"}],
          "mark": {"type": "line", "stroke": "#ff0000", "strokeWidth": 7, "strokeCap": "round", "strokeJoin": "round"},
          "encoding": {"x": {"field": "d", "type": "quantitative"}, "y": {"field": "v", "type": "quantitative"}}
        },
        {
          "data": {"values": [{}]},
          "mark": {"type": "text", "text": "b)", "fontSize": 23, "fontWeight": "bold", "color": "#111111"},
          "encoding": {"x": {"datum": 13}, "y": {"datum": 83.7}}
        }
      ]
    }
  ],
  "bounds": "flush",
  "spacing": 123
}
